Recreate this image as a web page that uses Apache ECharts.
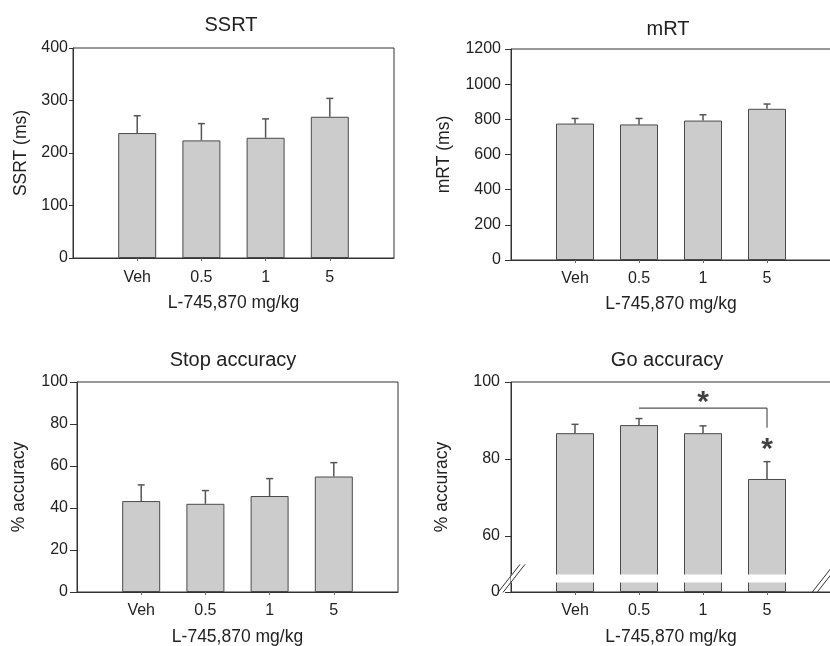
<!DOCTYPE html>
<html>
<head>
<meta charset="utf-8">
<script src="https://cdn.jsdelivr.net/npm/echarts@6/dist/echarts.min.js"></script>
<style>html,body{margin:0;padding:0;background:#fff}#c{width:830px;height:646px}</style>
</head>
<body>
<div id="c"></div>
<script>
// ---- data ----
const categories = ['', 'Veh', '0.5', '1', '5', ''];
const doses = ['Veh', '0.5', '1', '5'];
const ssrtMean = [238, 224, 229, 269];
const ssrtUpper = [271, 256, 265, 304];
const mrtMean = [776, 771, 793, 860];
const mrtUpper = [805, 805, 826, 887];
const stopMean = [43.3, 42, 45.7, 55];
const stopUpper = [51, 48.3, 54, 61.6];
const goMean = [86.7, 88.8, 86.7, 74.8];
const goUpper = [89.0, 90.5, 88.6, 79.3];
const goBracket = [['0.5', 93.2], ['5', 93.2], ['5', 88.1]];
const goStars = [['1', 94.6], ['5', 82.3]];
const titles = ['SSRT', 'mRT', 'Stop accuracy', 'Go accuracy'];
const yNames = ['SSRT (ms)', 'mRT (ms)', '% accuracy', '% accuracy'];
const xName = 'L-745,870 mg/kg';
const yTicks = [[0, 100, 200, 300, 400], [0, 200, 400, 600, 800, 1000, 1200], [0, 20, 40, 60, 80, 100], [0, 60, 80, 100]];

const FONT = "'Liberation Sans', Arial, sans-serif";
const TXT = '#222';
const grids = [
  {left: 73, top: 48, width: 321, height: 210},
  {left: 511, top: 49, width: 320, height: 211},
  {left: 77, top: 382, width: 321, height: 210},
  {left: 511, top: 382, width: 320, height: 210}
];
const titlePos = [[231, 15], [668, 19], [233, 350], [667, 350]];
const yLabelMargin = [5, 10, 9, 11];
const yTickLen = [4, 6, 7, 6];
const yNameGap = [43, 58, 49, 60];
const xLabelMargin = [12, 11, 11, 11];
const xNameGap = [36, 35, 36, 36];
const yMax = [400, 1200, 100, 100];

const means = [ssrtMean, mrtMean, stopMean, goMean];
const uppers = [ssrtUpper, mrtUpper, stopUpper, goUpper];

function errRender(params, api) {
  const x = api.value(0);
  const p0 = api.coord([x, api.value(1)]);
  const p1 = api.coord([x, api.value(2)]);
  const style = {stroke: '#555', lineWidth: 1.5};
  return {type: 'group', children: [
    {type: 'line', shape: {x1: p0[0], y1: p0[1], x2: p1[0], y2: p1[1]}, style: style},
    {type: 'line', shape: {x1: p1[0] - 3.5, y1: p1[1], x2: p1[0] + 3.5, y2: p1[1]}, style: style}
  ]};
}

const option = {
  animation: false,
  backgroundColor: '#fff',
  textStyle: {fontFamily: FONT, color: TXT},
  title: titles.map((t, i) => ({
    text: t, left: titlePos[i][0], top: titlePos[i][1], textAlign: 'center', padding: 0,
    textStyle: {fontFamily: FONT, fontSize: 20, fontWeight: 'normal', color: TXT}
  })),
  grid: grids.map(g => Object.assign({show: true, borderColor: '#333', borderWidth: 1, backgroundColor: 'transparent', containLabel: false, outerBoundsMode: 'none'}, g)),
  xAxis: grids.map((g, i) => ({
    type: 'category', gridIndex: i, data: categories, boundaryGap: false,
    name: xName, nameLocation: 'middle', nameGap: xNameGap[i],
    nameTextStyle: {fontFamily: FONT, fontSize: 17.5, color: TXT},
    axisLine: {lineStyle: {color: '#333', width: 1}},
    axisTick: {show: true, length: 3, lineStyle: {color: '#666'}, interval: (idx) => idx > 0 && idx < 5},
    axisLabel: {fontFamily: FONT, fontSize: 16, color: TXT, margin: xLabelMargin[i], interval: 0},
    splitLine: {show: false}
  })),
  yAxis: grids.map((g, i) => {
    const ax = {
      type: 'value', gridIndex: i, min: 0, max: yMax[i],
      name: yNames[i], nameLocation: 'middle', nameGap: yNameGap[i], nameRotate: 90,
      nameTextStyle: {fontFamily: FONT, fontSize: 17.5, color: TXT},
      axisLine: {show: true, lineStyle: {color: '#333', width: 1}},
      axisTick: {show: true, length: yTickLen[i], lineStyle: {color: '#333'}, customValues: yTicks[i]},
      axisLabel: {fontFamily: FONT, fontSize: 16, color: TXT, margin: yLabelMargin[i], customValues: yTicks[i],
        formatter: (v) => String(v)},
      splitLine: {show: false}
    };
    if (i === 3) {
      ax.breaks = [{start: 2.5, end: 50, gap: '3.8%'}];
      ax.breakArea = {show: true, itemStyle: {color: '#fff', borderColor: '#fff', borderWidth: 0, opacity: 1},
        zigzagAmplitude: 0, zigzagZ: 100, expandOnClick: false};
    }
    return ax;
  }),
  series: []
};

for (let i = 0; i < 4; i++) {
  option.series.push({
    type: 'bar', xAxisIndex: i, yAxisIndex: i, barWidth: 38,
    itemStyle: {color: '#cccccc', borderColor: '#4a4a4a', borderWidth: 1},
    data: doses.map((d, k) => [d, means[i][k]])
  });
  option.series.push({
    type: 'custom', xAxisIndex: i, yAxisIndex: i, renderItem: errRender, z: 3,
    encode: {x: 0, y: [1, 2]},
    data: doses.map((d, k) => [d, means[i][k], uppers[i][k]])
  });
}
option.series.push({
  type: 'line', xAxisIndex: 3, yAxisIndex: 3, data: goBracket, symbol: 'none',
  lineStyle: {color: '#555', width: 1.2}, z: 4
});
option.series.push({
  type: 'scatter', xAxisIndex: 3, yAxisIndex: 3, data: goStars, symbolSize: 1,
  itemStyle: {color: 'transparent'},
  label: {show: true, position: 'inside', formatter: '*', fontFamily: FONT, fontSize: 30, fontWeight: 'bold', color: '#111'},
  z: 5
});

const chart = echarts.init(document.getElementById('c'), null, {renderer: 'canvas'});
chart.setOption(option);

// break marks on the Go-accuracy axis, located through the axis scale
const yb = chart.convertToPixel({yAxisIndex: 3}, 2.5);
const ye = chart.convertToPixel({yAxisIndex: 3}, 50);
const yc = (yb + ye) / 2;
const gl = grids[3].left, gr = grids[3].left + grids[3].width;
function slash(cx, cy, dx) {
  return {type: 'line', shape: {x1: cx - 11 + dx, y1: cy + 14, x2: cx + 11 + dx, y2: cy - 14}, style: {stroke: '#333', lineWidth: 1}, z: 200};
}
chart.setOption({graphic: [
  slash(gl, yc, -2), slash(gl, yc, 3),
  slash(gr - 6, yc, -2), slash(gr - 6, yc, 3)
]});
</script>
</body>
</html>
